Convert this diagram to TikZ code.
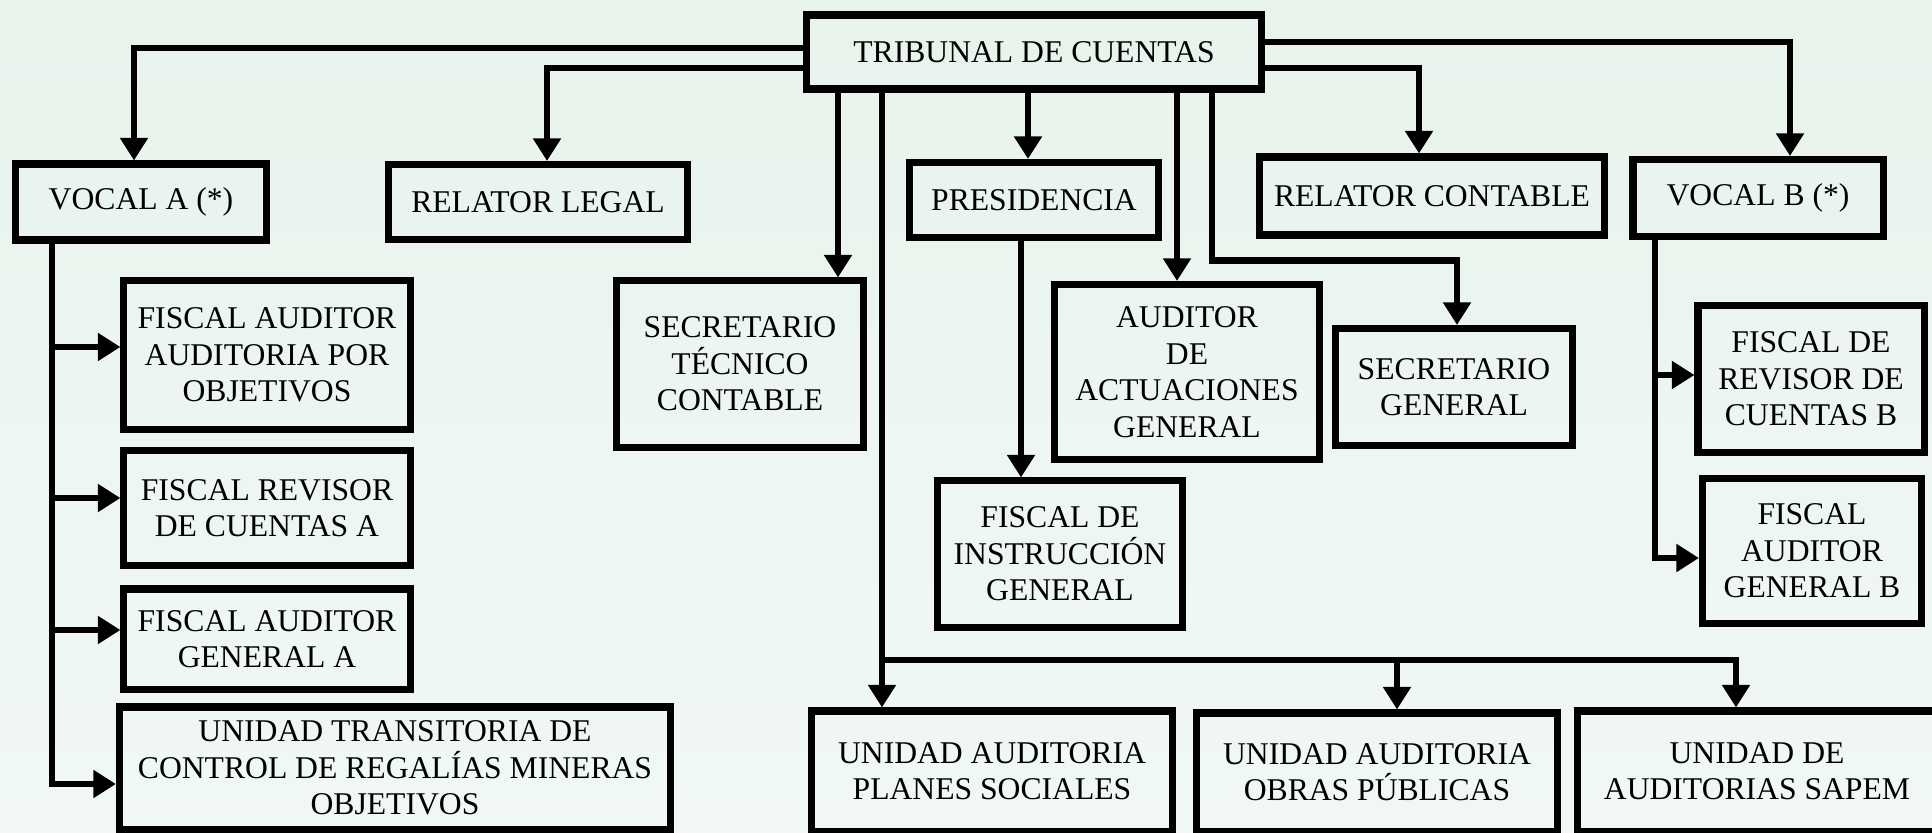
\documentclass[tikz,border=0pt]{standalone}
\usepackage{fontspec}
\setmainfont{Liberation Serif}
\usetikzlibrary{arrows.meta,calc}
\definecolor{fondoarriba}{RGB}{232,243,236}
\definecolor{fondoabajo}{RGB}{241,248,244}
\begin{document}
\begin{tikzpicture}%
[x=0.025cm, y=-0.025cm,
every node/.style={rectangle,draw=black,line width=5pt,align=center,
inner sep=0pt,font=\fontsize{22.5}{26}\selectfont},
flecha/.style={-{Triangle[length=16pt,width=19pt]},line width=4.6pt}]
\useasboundingbox (0,0) rectangle (1932,833);
\shade [top color=fondoarriba, bottom color=fondoabajo] (0,0) rectangle (1932,833);
\node (trib) at (1034,52) [minimum width=11.375cm, minimum height=1.85cm]
{TRIBUNAL DE CUENTAS};
\node (vocalA) at (141,202) [minimum width=6.25cm, minimum height=1.9cm]
{VOCAL A (*)};
\node (relLegal) at (538,202) [minimum width=7.475cm, minimum height=1.875cm]
{RELATOR LEGAL};
\node (fisAudObj) at (267,355) [minimum width=7.15cm, minimum height=3.7cm]
{FISCAL AUDITOR\\AUDITORIA POR\\OBJETIVOS};
\node (fisRevA) at (267,508) [minimum width=7.15cm, minimum height=2.875cm]
{FISCAL REVISOR\\DE CUENTAS A};
\node (fisAudA) at (267,639) [minimum width=7.15cm, minimum height=2.5cm]
{FISCAL AUDITOR\\GENERAL A};
\node (uTrans) at (395,768) [minimum width=13.775cm, minimum height=3.05cm]
{UNIDAD TRANSITORIA DE\\CONTROL DE REGALÍAS MINERAS\\OBJETIVOS};
\node (secTec) at (740,364) [minimum width=6.175cm, minimum height=4.15cm]
{SECRETARIO\\TÉCNICO\\CONTABLE};
\node (pres) at (1034,200) [minimum width=6.2cm, minimum height=1.875cm]
{PRESIDENCIA};
\node (audAct) at (1187,372) [minimum width=6.6cm, minimum height=4.375cm]
{AUDITOR\\DE\\ACTUACIONES\\GENERAL};
\node (secGen) at (1454,387) [minimum width=5.925cm, minimum height=2.925cm]
{SECRETARIO\\GENERAL};
\node (relCont) at (1432,196) [minimum width=8.6cm, minimum height=1.95cm]
{RELATOR CONTABLE};
\node (vocalB) at (1758,198) [minimum width=6.25cm, minimum height=1.925cm]
{VOCAL B (*)};
\node (fisRevB) at (1811,379) [minimum width=5.65cm, minimum height=3.65cm]
{FISCAL DE\\REVISOR DE\\CUENTAS B};
\node (fisAudB) at (1812,551) [minimum width=5.475cm, minimum height=3.625cm]
{FISCAL\\AUDITOR\\GENERAL B};
\node (fisInst) at (1060,554) [minimum width=6.125cm, minimum height=3.65cm]
{FISCAL DE\\INSTRUCCIÓN\\GENERAL};
\node (uPlanes) at (992,771) [minimum width=9cm, minimum height=3cm]
{UNIDAD AUDITORIA\\PLANES SOCIALES};
\node (uObras) at (1377,772) [minimum width=9.025cm, minimum height=2.95cm]
{UNIDAD AUDITORIA\\OBRAS PÚBLICAS};
\node (uSapem) at (1757,771) [minimum width=8.975cm, minimum height=3cm]
{UNIDAD DE\\AUDITORIAS SAPEM};
\coordinate (bus) at (882,660);
\draw [flecha] ($(trib.west)+(0,-4)$) -| ($(vocalA.north)+(-7,0)$);
\draw [flecha] ($(trib.west)+(0,16)$) -| ($(relLegal.north)+(9,0)$);
\draw [flecha] ($(trib.south)+(-196,0)$) -- ($(secTec.north)+(98,0)$);
\draw [flecha] ($(trib.south)+(-152,0)$) -- ($(uPlanes.north)+(-110,0)$);
\draw [flecha] (bus) -| ($(uObras.north)+(20,0)$);
\draw [flecha] (bus) -| ($(uSapem.north)+(-21,0)$);
\draw [flecha] ($(trib.south)+(-6,0)$) -- ($(pres.north)+(-6,0)$);
\draw [flecha] ($(trib.south)+(143,0)$) -- ($(audAct.north)+(-10,0)$);
\draw [flecha] ($(trib.south)+(178,0)$) -- ++(0,168) -| ($(secGen.north)+(3,0)$);
\draw [flecha] ($(trib.east)+(0,16)$) -| ($(relCont.north)+(-13,0)$);
\draw [flecha] ($(trib.east)+(0,-10)$) -| ($(vocalB.north)+(32,0)$);
\draw [flecha] ($(pres.south)+(-13,0)$) -- ($(fisInst.north)+(-39,0)$);
\draw [flecha] ($(vocalA.south)+(-89,0)$) |- ($(fisAudObj.west)+(0,-8)$);
\draw [flecha] ($(vocalA.south)+(-89,0)$) |- ($(fisRevA.west)+(0,-10)$);
\draw [flecha] ($(vocalA.south)+(-89,0)$) |- ($(fisAudA.west)+(0,-9)$);
\draw [flecha] ($(vocalA.south)+(-89,0)$) |- ($(uTrans.west)+(0,16)$);
\draw [flecha] ($(vocalB.south)+(-103,0)$) |- ($(fisRevB.west)+(0,-4)$);
\draw [flecha] ($(vocalB.south)+(-103,0)$) |- ($(fisAudB.west)+(0,7)$);
\end{tikzpicture}
\end{document}
